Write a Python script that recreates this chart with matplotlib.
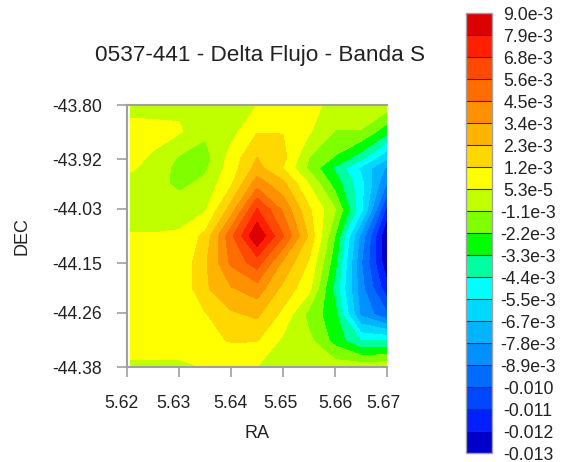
import matplotlib
matplotlib.use("Agg")
import matplotlib.pyplot as plt
from matplotlib.colors import ListedColormap, BoundaryNorm
from matplotlib.transforms import ScaledTranslation

plt.rcParams['font.family'] = ['Liberation Sans', 'DejaVu Sans']

W, H = 563, 462

ra = [5.6206, 5.625, 5.63, 5.635, 5.64, 5.645, 5.65, 5.655, 5.66, 5.665, 5.67]
dec = [-43.80, -43.858, -43.916, -43.9395, -43.974, -44.032, -44.09, -44.148, -44.206, -44.264, -44.322, -44.38]

# delta flux, x 1e-3, one row per dec
row0 = [-0.5, -0.5, -0.2, -0.5, -0.4, 0.05, 0.7, 0.5, -0.4, -0.5, -0.5]
row1 = [0.6, 0.5, 0.2, -0.85, -0.4, 1.1, 1.15, 0.2, -1.15, -1.15, -2.9]
row2 = [0.4, -0.1, -1.2, -1.6, 0.5, 2.3, 1.6, -1.1, -2.3, -3.9, -6.5]
row2b = [0.2, -0.3, -1.5, -1.3, 0.6, 2.7, 1.15, -1.35, -3.5, -5.75, -8.0]
row3 = [-0.3, -0.6, -1.4, -0.8, 1.0, 4.0, 2.6, 0.0, -2.7, -5.1, -9.0]
row4 = [-0.3, -0.3, -0.4, -0.1, 2.8, 6.9, 4.3, 1.4, -1.0, -5.2, -11.5]
row5 = [0.1, 0.1, 0.2, 1.5, 5.3, 9.0, 5.7, 2.1, -2.2, -8.2, -13.1]
row6 = [0.5, 0.4, 0.2, 2.1, 4.7, 6.2, 3.2, 1.1, -2.9, -8.8, -12.8]
row7 = [0.5, 0.4, 0.2, 2.1, 3.3, 4.0, 2.0, 0.4, -3.7, -8.5, -11.7]
row8 = [0.5, 0.5, 0.5, 1.1, 2.1, 2.5, 0.9, -1.5, -2.9, -8.0, -9.8]
row9 = [0.7, 0.7, 0.7, 1.0, 1.25, 1.25, -0.2, -0.8, -2.6, -4.4, -4.4]
row10 = [-0.2, -0.2, -0.2, 0.1, 0.3, 0.05, -0.5, -0.7, -0.5, -0.4, -0.3]
flux = [row0, row1, row2, row2b, row3, row4, row5, row6, row7, row8, row9, row10]

levels = [-13.0, -12.0, -11.0, -10.0, -8.9, -7.8, -6.7, -5.5, -4.4, -3.3, -2.2,
          -1.1, 0.053, 1.2, 2.3, 3.4, 4.5, 5.6, 6.8, 7.9, 9.0]
level_labels = ['-0.013', '-0.012', '-0.011', '-0.010', '-8.9e-3', '-7.8e-3', '-6.7e-3',
                '-5.5e-3', '-4.4e-3', '-3.3e-3', '-2.2e-3', '-1.1e-3', '5.3e-5', '1.2e-3',
                '2.3e-3', '3.4e-3', '4.5e-3', '5.6e-3', '6.8e-3', '7.9e-3', '9.0e-3']
band_colors = ['#0000cc', '#0020ff', '#0048ff', '#006cff', '#0090ff', '#00b4ff', '#00d8ff',
               '#00ffff', '#00ffa0', '#00ff00', '#80ff00', '#c0ff00', '#ffff00', '#ffd800',
               '#ffb400', '#ff9000', '#ff6c00', '#ff4800', '#ff2000', '#dd0000']

x_ticks = [5.62, 5.63, 5.64, 5.65, 5.66, 5.67]
y_ticks = [-44.38, -44.26, -44.15, -44.03, -43.92, -43.80]
y_labels = ['-44.38', '-44.26', '-44.15', '-44.03', '-43.92', '-43.80']
x_label_shift = [-6, -6, -1, -3, 0, -4]

GREY = '#a0a0a0'
TEXT = '#222222'

fig = plt.figure(figsize=(W / 100, H / 100), dpi=100)
ax = fig.add_axes([127 / W, 1 - 367 / H, 260 / W, 262 / H])

cmap = ListedColormap(band_colors)
norm = BoundaryNorm(levels, cmap.N)
cf = ax.contourf(ra, dec, flux, levels=levels, cmap=cmap, norm=norm)

ax.set_xlim(5.62, 5.67)
ax.set_ylim(-44.38, -43.80)
ax.set_xticks(x_ticks)
ax.set_xticklabels([f'{t:.2f}' for t in x_ticks])
ax.set_yticks(y_ticks)
ax.set_yticklabels(y_labels)
ax.tick_params(length=7, width=1.2, color=GREY, labelsize=12.7, labelcolor=TEXT)
ax.tick_params(axis='x', pad=13.5)
ax.tick_params(axis='y', pad=11)
for lab, dx in zip(ax.get_xticklabels(), x_label_shift):
    lab.set_transform(lab.get_transform() + ScaledTranslation(dx / 100, 0, fig.dpi_scale_trans))
ax.spines['right'].set_visible(False)
for side in ['left', 'bottom', 'top']:
    ax.spines[side].set_color(GREY)
    ax.spines[side].set_linewidth(1.5)
ax.set_xlabel('RA', fontsize=13, color=TEXT, va='center')
ax.xaxis.set_label_coords(0.5, -0.252)
ax.set_ylabel('DEC', fontsize=13, color=TEXT, va='center')
ax.yaxis.set_label_coords(-0.404, 0.5)

fig.text(260 / W, 1 - 56 / H, '0537-441 - Delta Flujo - Banda S', fontsize=16.2,
         color=TEXT, ha='center', va='center')

cax = fig.add_axes([466 / W, 1 - 453 / H, 26 / W, 440 / H])
cb = fig.colorbar(cf, cax=cax, spacing='uniform', ticks=levels, drawedges=True)
cb.set_ticklabels(level_labels)
cb.ax.tick_params(length=0, labelsize=12.7, labelcolor=TEXT, pad=26)
for lab in cb.ax.get_yticklabels():
    lab.set_ha('center')
cb.outline.set_edgecolor(GREY)
cb.outline.set_linewidth(1.0)
cb.dividers.set_color('#333333')
cb.dividers.set_linewidth(0.8)

fig.savefig('out.png', dpi=100)
